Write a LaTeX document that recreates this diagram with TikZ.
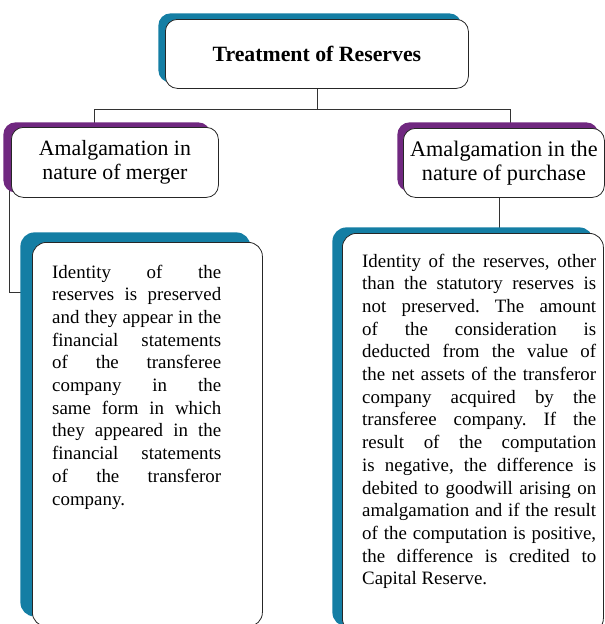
\documentclass[tikz,border=0pt]{standalone}
\usepackage{fontspec}
\setmainfont{Liberation Serif}
\usetikzlibrary{shadows,backgrounds}
\definecolor{tealc}{RGB}{20,126,164}
\definecolor{purp}{RGB}{112,40,128}
\newcommand\bodyfnt{\fontsize{18.9}{22.7}\selectfont\frenchspacing}
\begin{document}
\begin{tikzpicture}[x=1pt,y=-1pt,
  box/.style={draw=black!85, line width=0.8pt, fill=white, rounded corners=12pt,
    inner sep=0pt, anchor=north west, align=center},
  conn/.style={draw=black!80, line width=0.8pt},
  txt/.style={anchor=north west, inner sep=0pt, align=justify, font=\bodyfnt}]
\useasboundingbox (0,0) rectangle (605,624);

% boxes
\node[box, minimum width=303pt, minimum height=69pt,
  general shadow={fill=tealc, shadow xshift=-7pt, shadow yshift=6pt},
  font=\fontsize{21.8}{26}\selectfont\bfseries] (top) at (165,19) {Treatment of Reserves};

\node[box, minimum width=207pt, minimum height=70pt,
  general shadow={fill=purp, shadow xshift=-8pt, shadow yshift=5pt},
  font=\fontsize{21.8}{24}\selectfont] (lp) at (11,127) {Amalgamation in\\nature of merger};

\node[box, minimum width=201pt, minimum height=69pt,
  general shadow={fill=purp, shadow xshift=-6pt, shadow yshift=6pt},
  font=\fontsize{22.2}{24}\selectfont] (rp) at (403,128) {Amalgamation in the\\nature of purchase};

\node[box, rounded corners=14pt, minimum width=230pt, minimum height=384pt,
  general shadow={fill=tealc, shadow xshift=-12pt, shadow yshift=10pt}] (lt) at (32,242) {};

\node[box, rounded corners=14pt, minimum width=261pt, minimum height=399pt,
  general shadow={fill=tealc, shadow xshift=-10pt, shadow yshift=6pt}] (rt) at (342,233) {};

% texts
\node[txt, text width=169pt] (ltx) at (52,264.5) {%
Identity of the\linebreak
reserves is preserved\linebreak
and they appear in the\linebreak
financial statements\linebreak
of the transferee\linebreak
company in the\linebreak
same form in which\linebreak
they appeared in the\linebreak
financial statements\linebreak
of the transferor\linebreak
company.};

\node[txt, text width=234pt] (rtx) at (362,253.5) {%
Identity of the reserves, other\linebreak
than the statutory reserves is\linebreak
not preserved. The amount\linebreak
of the consideration is\linebreak
deducted from the value of\linebreak
the net assets of the transferor\linebreak
company acquired by the\linebreak
transferee company. If the\linebreak
result of the computation\linebreak
is negative, the difference is\linebreak
debited to goodwill arising on\linebreak
amalgamation and if the result\linebreak
of the computation is positive,\linebreak
the difference is credited to\linebreak
Capital Reserve.};

% connectors
\begin{pgfonlayer}{background}
\coordinate (hl) at (94,109);
\coordinate (hr) at (510,109);
\coordinate (vl) at (9,292);
\coordinate (vr) at (499,0);
\draw[conn] (top.south) -- (top.south |- hl);
\draw[conn] (hl |- lp.north) -- (hl) -- (hr) -- (hr |- rp.north);
\draw[conn] (vl |- lp.center) -- (vl) -- (lt.west |- vl);
\draw[conn] (vr |- rp.south) -- (vr |- rt.north);
\end{pgfonlayer}
\end{tikzpicture}
\end{document}
